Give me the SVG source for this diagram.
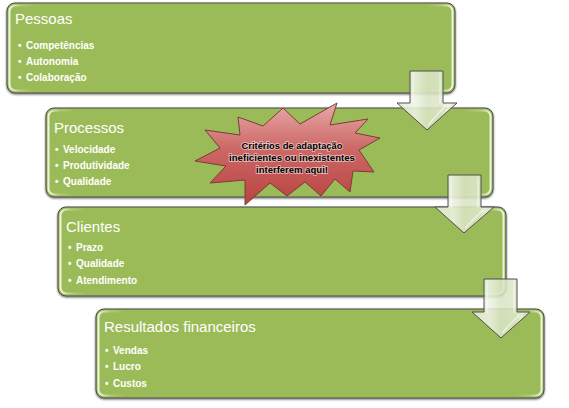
<svg xmlns="http://www.w3.org/2000/svg" width="569" height="408" viewBox="0 0 569 408">
<defs>
<linearGradient id="edgeGlow" x1="0" y1="0" x2="1" y2="0">
<stop offset="0" stop-color="#F2F7E6" stop-opacity="0.95"/>
<stop offset="0.025" stop-color="#F2F7E6" stop-opacity="0.25"/>
<stop offset="0.06" stop-color="#F2F7E6" stop-opacity="0"/>
<stop offset="0.94" stop-color="#F2F7E6" stop-opacity="0"/>
<stop offset="0.975" stop-color="#F2F7E6" stop-opacity="0.25"/>
<stop offset="1" stop-color="#F2F7E6" stop-opacity="0.95"/>
</linearGradient>
<linearGradient id="arrowFill" x1="0" y1="0" x2="1" y2="0">
<stop offset="0" stop-color="#E2EAD0"/>
<stop offset="0.3" stop-color="#EEF3E4"/>
<stop offset="0.5" stop-color="#D9E4C3"/>
<stop offset="0.75" stop-color="#DDE7C9"/>
<stop offset="0.85" stop-color="#F0F5E6"/>
<stop offset="1" stop-color="#D6E1BF"/>
</linearGradient>
<linearGradient id="starFill" x1="0" y1="0" x2="0" y2="1">
<stop offset="0" stop-color="#E8A9A7"/>
<stop offset="0.45" stop-color="#CC6866"/>
<stop offset="1" stop-color="#B9423F"/>
</linearGradient>
<filter id="shadow" x="-5%" y="-10%" width="110%" height="125%">
<feGaussianBlur in="SourceAlpha" stdDeviation="0.8"/>
<feOffset dx="-0.5" dy="1" result="b"/>
<feComponentTransfer><feFuncA type="linear" slope="0.6"/></feComponentTransfer>
<feMerge><feMergeNode/><feMergeNode in="SourceGraphic"/></feMerge>
</filter>
</defs>
<style>
.box{fill:#9BBB59;stroke:#4A4A4A;stroke-width:1;}
.glow{fill:none;stroke:url(#edgeGlow);stroke-width:2;}
.title{font-family:"Liberation Sans",Arial,sans-serif;font-size:15px;fill:#FFFFFF;}
.item{font-family:"Liberation Sans",Arial,sans-serif;font-size:10px;font-weight:bold;fill:#FFFFFF;}
.arrow{fill:url(#arrowFill);fill-opacity:0.88;stroke:#4F4F4F;stroke-width:1;stroke-linejoin:miter;}
.ahl{fill:none;stroke:#FFFFFF;stroke-opacity:0.6;stroke-width:1.2;}
.star{fill:url(#starFill);stroke:#7A3C3A;stroke-width:1;stroke-linejoin:miter;}
.stext{font-family:"Liberation Sans",Arial,sans-serif;font-size:9.5px;font-weight:bold;fill:#000000;text-anchor:middle;stroke:#FFFFFF;stroke-opacity:0.5;stroke-width:1.8;paint-order:stroke;}
</style>
<rect width="569" height="408" fill="#FFFFFF"/>

<g id="node-pessoas">
<rect class="box" x="7" y="3" width="448" height="90" rx="8" filter="url(#shadow)"/>
<rect class="glow" x="9.5" y="5.5" width="443" height="85" rx="6"/>
<text class="title" x="15" y="24">Pessoas</text>
<text class="item" x="18" y="48.5">•<tspan x="26">Competências</tspan></text>
<text class="item" x="18" y="64.5">•<tspan x="26">Autonomia</tspan></text>
<text class="item" x="18" y="80.5">•<tspan x="26">Colaboração</tspan></text>
</g>

<g id="node-processos">
<rect class="box" x="46" y="108" width="447" height="89" rx="8" filter="url(#shadow)"/>
<rect class="glow" x="48.5" y="110.5" width="442" height="84" rx="6"/>
<text class="title" x="54" y="133">Processos</text>
<text class="item" x="55" y="152.5">•<tspan x="63">Velocidade</tspan></text>
<text class="item" x="55" y="168.5">•<tspan x="63">Produtividade</tspan></text>
<text class="item" x="55" y="184.5">•<tspan x="63">Qualidade</tspan></text>
</g>

<g id="node-clientes">
<rect class="box" x="58" y="207" width="448" height="89" rx="8" filter="url(#shadow)"/>
<rect class="glow" x="60.5" y="209.5" width="443" height="84" rx="6"/>
<text class="title" x="66" y="232">Clientes</text>
<text class="item" x="68" y="251">•<tspan x="76">Prazo</tspan></text>
<text class="item" x="68" y="267">•<tspan x="76">Qualidade</tspan></text>
<text class="item" x="68" y="283.5">•<tspan x="76">Atendimento</tspan></text>
</g>

<g id="node-resultados">
<rect class="box" x="96" y="309" width="448" height="89" rx="8" filter="url(#shadow)"/>
<rect class="glow" x="98.5" y="311.5" width="443" height="84" rx="6"/>
<text class="title" x="104" y="332">Resultados financeiros</text>
<text class="item" x="105" y="353.5">•<tspan x="113">Vendas</tspan></text>
<text class="item" x="105" y="370">•<tspan x="113">Lucro</tspan></text>
<text class="item" x="105" y="386.5">•<tspan x="113">Custos</tspan></text>
</g>

<g id="connectors">
<g id="arrow-1">
<path class="arrow" d="M410,71 H443 V103 H457 L427,130 L397,103 H410 Z"/>
<path class="ahl" d="M413,73 V104 M440,73 V104 M445,106 L428,125"/>
</g>
<g id="arrow-2">
<path class="arrow" d="M448,175 H481 V207 H494 L464,233 L435,207 H448 Z"/>
<path class="ahl" d="M451,177 V208 M478,177 V208 M483,210 L465,228"/>
</g>
<g id="arrow-3">
<path class="arrow" d="M484,279 H517 V312 H530 L501,338 L472,312 H484 Z"/>
<path class="ahl" d="M487,281 V313 M514,281 V313 M519,315 L502,333"/>
</g>
</g>

<g id="node-alerta">
<polygon class="star" points="337,103 330,125 368,119 355,133 380,138 359,150 374,172 353,171 350,192 335,179 321,196 305,182 287,196 270,183 245,205 245,180 210,183 226,166 195,161 220,148 205,130 240,135 238,117 263,126 283,108 300,124"/>
<text class="stext" x="292" y="148.5" textLength="101" lengthAdjust="spacingAndGlyphs">Critérios de adaptação</text>
<text class="stext" x="292" y="160.5" textLength="126" lengthAdjust="spacingAndGlyphs">ineficientes ou inexistentes</text>
<text class="stext" x="292" y="172.5" textLength="72" lengthAdjust="spacingAndGlyphs">interferem aqui!</text>
</g>
</svg>
